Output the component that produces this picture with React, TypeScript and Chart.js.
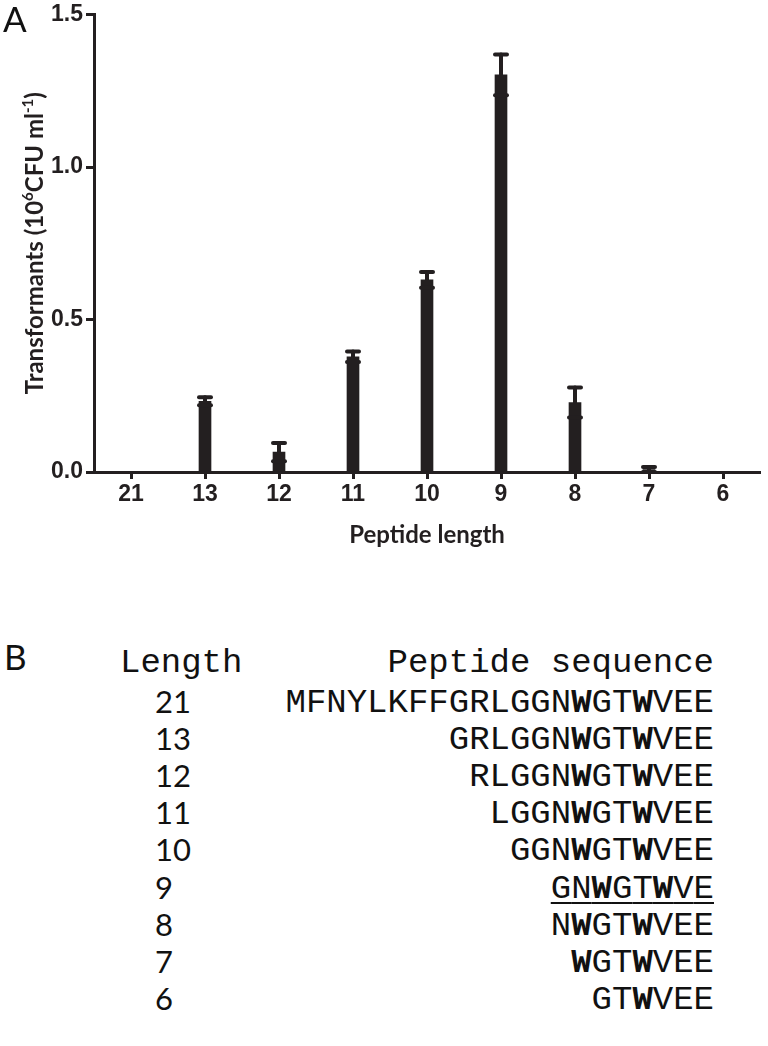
import React, { useEffect, useRef } from 'react';
import { Chart, registerables } from 'chart.js';

Chart.register(...registerables);

// ---------- data ----------
const categories = ['21', '13', '12', '11', '10', '9', '8', '7', '6'];
const meanValues = [0, 0.232, 0.065, 0.378, 0.63, 1.302, 0.228, 0.008, 0];
const errorValues = [0, 0.013, 0.03, 0.017, 0.026, 0.067, 0.049, 0.008, 0];
const yTickValues = [0, 0.5, 1.0, 1.5];
const xTitle = 'Peptide length';
const yTitleParts = [
  { text: 'Transformants (10', sup: false },
  { text: '6', sup: true },
  { text: 'CFU ml', sup: false },
  { text: '-1', sup: true },
  { text: ')', sup: false },
];

const seqLengths = ['21', '13', '12', '11', '10', '9', '8', '7', '6'];
const sequences = [
  'MFNYLKFFGRLGGNWGTWVEE',
  'GRLGGNWGTWVEE',
  'RLGGNWGTWVEE',
  'LGGNWGTWVEE',
  'GGNWGTWVEE',
  'GNWGTWVE',
  'NWGTWVEE',
  'WGTWVEE',
  'GTWVEE',
];
const underlinedRow = '9';
const tableHeaders = ['Length', 'Peptide sequence'];

// ---------- style ----------
const INK = '#231f20';
const TICK_FONT = {
  family: "'Liberation Sans', Arial, sans-serif",
  size: 23,
  weight: 'bold' as const,
  lineHeight: 1,
};
const TITLE_FONT_FAMILY = "Lato, 'Open Sans', sans-serif";

const errorBarPlugin = {
  id: 'errorBars',
  afterDatasetsDraw(chart: any) {
    const { ctx } = chart;
    const x = chart.scales.x;
    const y = chart.scales.y;
    ctx.save();
    ctx.strokeStyle = INK;
    ctx.lineCap = 'round';
    meanValues.forEach((m, i) => {
      const e = errorValues[i];
      if (m === 0 && e === 0) return;
      const cx = x.getPixelForValue(i);
      const yHi = y.getPixelForValue(m + e);
      const yLo = y.getPixelForValue(Math.max(0, m - e));
      ctx.lineWidth = 4;
      ctx.beginPath();
      ctx.moveTo(cx, yHi);
      ctx.lineTo(cx, yLo);
      ctx.stroke();
      [yHi, yLo].forEach((py) => {
        ctx.beginPath();
        ctx.moveTo(cx - 6, py);
        ctx.lineTo(cx + 6, py);
        ctx.stroke();
      });
    });
    ctx.restore();
  },
};

const axisTitlePlugin = {
  id: 'axisTitles',
  afterDraw(chart: any) {
    const { ctx, chartArea } = chart;
    ctx.save();
    ctx.fillStyle = INK;
    // x title
    ctx.font = `bold 24px ${TITLE_FONT_FAMILY}`;
    ctx.textAlign = 'center';
    ctx.textBaseline = 'alphabetic';
    ctx.fillText(xTitle, (chartArea.left + chartArea.right) / 2, chartArea.bottom + 71);

    // y title (rotated, with superscripts)
    const mainFont = `bold 24px ${TITLE_FONT_FAMILY}`;
    const supFont = `bold 15px ${TITLE_FONT_FAMILY}`;
    let total = 0;
    const widths = yTitleParts.map((p) => {
      ctx.font = p.sup ? supFont : mainFont;
      const w = ctx.measureText(p.text).width;
      total += w;
      return w;
    });
    ctx.translate(43, (chartArea.top + chartArea.bottom) / 2);
    ctx.rotate(-Math.PI / 2);
    ctx.textAlign = 'left';
    let u = -total / 2;
    yTitleParts.forEach((p, i) => {
      ctx.font = p.sup ? supFont : mainFont;
      ctx.fillText(p.text, u, p.sup ? -10 : 0);
      u += widths[i];
    });
    ctx.restore();
  },
};

// ---------- panel B layout ----------
const HEADER_Y = 662;
const ROW_Y0 = 702;
const ROW_STEP = 37.1;

function renderSequence(seq: string, underline: boolean) {
  const parts = seq.split('').map((c, i) =>
    c === 'W' ? <b key={i} style={{ fontWeight: 'bold' }}>{c}</b> : <span key={i}>{c}</span>
  );
  return (
    <span
      style={
        underline
          ? { textDecoration: 'underline', textDecorationThickness: '2px', textUnderlineOffset: '4px' }
          : undefined
      }
    >
      {parts}
    </span>
  );
}

export default function App() {
  const canvasRef = useRef<HTMLCanvasElement>(null);

  useEffect(() => {
    const canvas = canvasRef.current;
    if (!canvas) return;
    const chart = new Chart(canvas, {
      type: 'bar',
      data: {
        labels: categories,
        datasets: [
          {
            data: meanValues,
            backgroundColor: INK,
            borderWidth: 0,
            barThickness: 12,
          },
        ],
      },
      options: {
        responsive: false,
        animation: false,
        events: [],
        layout: { padding: { top: 13, right: 8, left: 0, bottom: 0 } },
        plugins: {
          legend: { display: false },
          tooltip: { enabled: false },
          title: { display: false },
        },
        scales: {
          x: {
            offset: true,
            grid: {
              display: true,
              drawOnChartArea: false,
              drawTicks: true,
              tickLength: 7,
              tickWidth: 3,
              tickColor: INK,
              offset: false,
            },
            border: { display: true, width: 3, color: INK },
            ticks: { color: INK, font: TICK_FONT, padding: 4, maxRotation: 0, autoSkip: false },
            afterFit: (s: any) => {
              s.height = 88;
            },
          },
          y: {
            min: 0,
            max: 1.5,
            afterBuildTicks: (s: any) => {
              s.ticks = yTickValues.map((v) => ({ value: v }));
            },
            grid: {
              display: true,
              drawOnChartArea: false,
              drawTicks: true,
              tickLength: 8,
              tickWidth: 3,
              tickColor: INK,
            },
            border: { display: true, width: 3, color: INK },
            ticks: {
              color: INK,
              font: TICK_FONT,
              padding: 3,
              callback: (v: any) => Number(v).toFixed(1),
            },
            afterFit: (s: any) => {
              s.width = 94;
            },
          },
        },
      },
      plugins: [errorBarPlugin, axisTitlePlugin],
    });
    return () => chart.destroy();
  }, []);

  const monoStyle: React.CSSProperties = {
    fontFamily: "'Liberation Mono', 'Courier New', monospace",
    fontSize: 34,
    lineHeight: '40px',
    color: '#111',
    whiteSpace: 'pre',
  };
  const numStyle: React.CSSProperties = {
    fontFamily: "Lato, 'Open Sans', sans-serif",
    fontSize: 31,
    lineHeight: '40px',
    color: '#111',
  };

  return (
    <div
      style={{
        position: 'absolute',
        left: 0,
        top: 0,
        width: 768,
        height: 1046,
        background: '#fff',
        overflow: 'hidden',
      }}
    >
      <canvas
        ref={canvasRef}
        width={768}
        height={560}
        style={{ position: 'absolute', left: 0, top: 0, width: 768, height: 560 }}
      />
      <div
        style={{
          position: 'absolute',
          left: 3,
          top: -2,
          fontFamily: "Lato, 'Open Sans', sans-serif",
          fontSize: 35,
          lineHeight: '40px',
          color: '#111',
        }}
      >
        A
      </div>
      <div
        style={{
          position: 'absolute',
          left: 4,
          top: 636,
          fontFamily: "Lato, 'Open Sans', sans-serif",
          fontSize: 35,
          lineHeight: '40px',
          color: '#111',
        }}
      >
        B
      </div>
      <div style={{ ...monoStyle, position: 'absolute', left: 120, top: HEADER_Y - 19 }}>{tableHeaders[0]}</div>
      <div style={{ ...monoStyle, position: 'absolute', right: 768 - 714, top: HEADER_Y - 19 }}>
        {tableHeaders[1]}
      </div>
      {seqLengths.map((len, i) => {
        const cy = ROW_Y0 + i * ROW_STEP;
        return (
          <React.Fragment key={len}>
            <div style={{ ...numStyle, position: 'absolute', left: 155, top: cy - 21 }}>{len}</div>
            <div style={{ ...monoStyle, position: 'absolute', right: 768 - 714, top: cy - 19 }}>
              {renderSequence(sequences[i], len === underlinedRow)}
            </div>
          </React.Fragment>
        );
      })}
    </div>
  );
}
